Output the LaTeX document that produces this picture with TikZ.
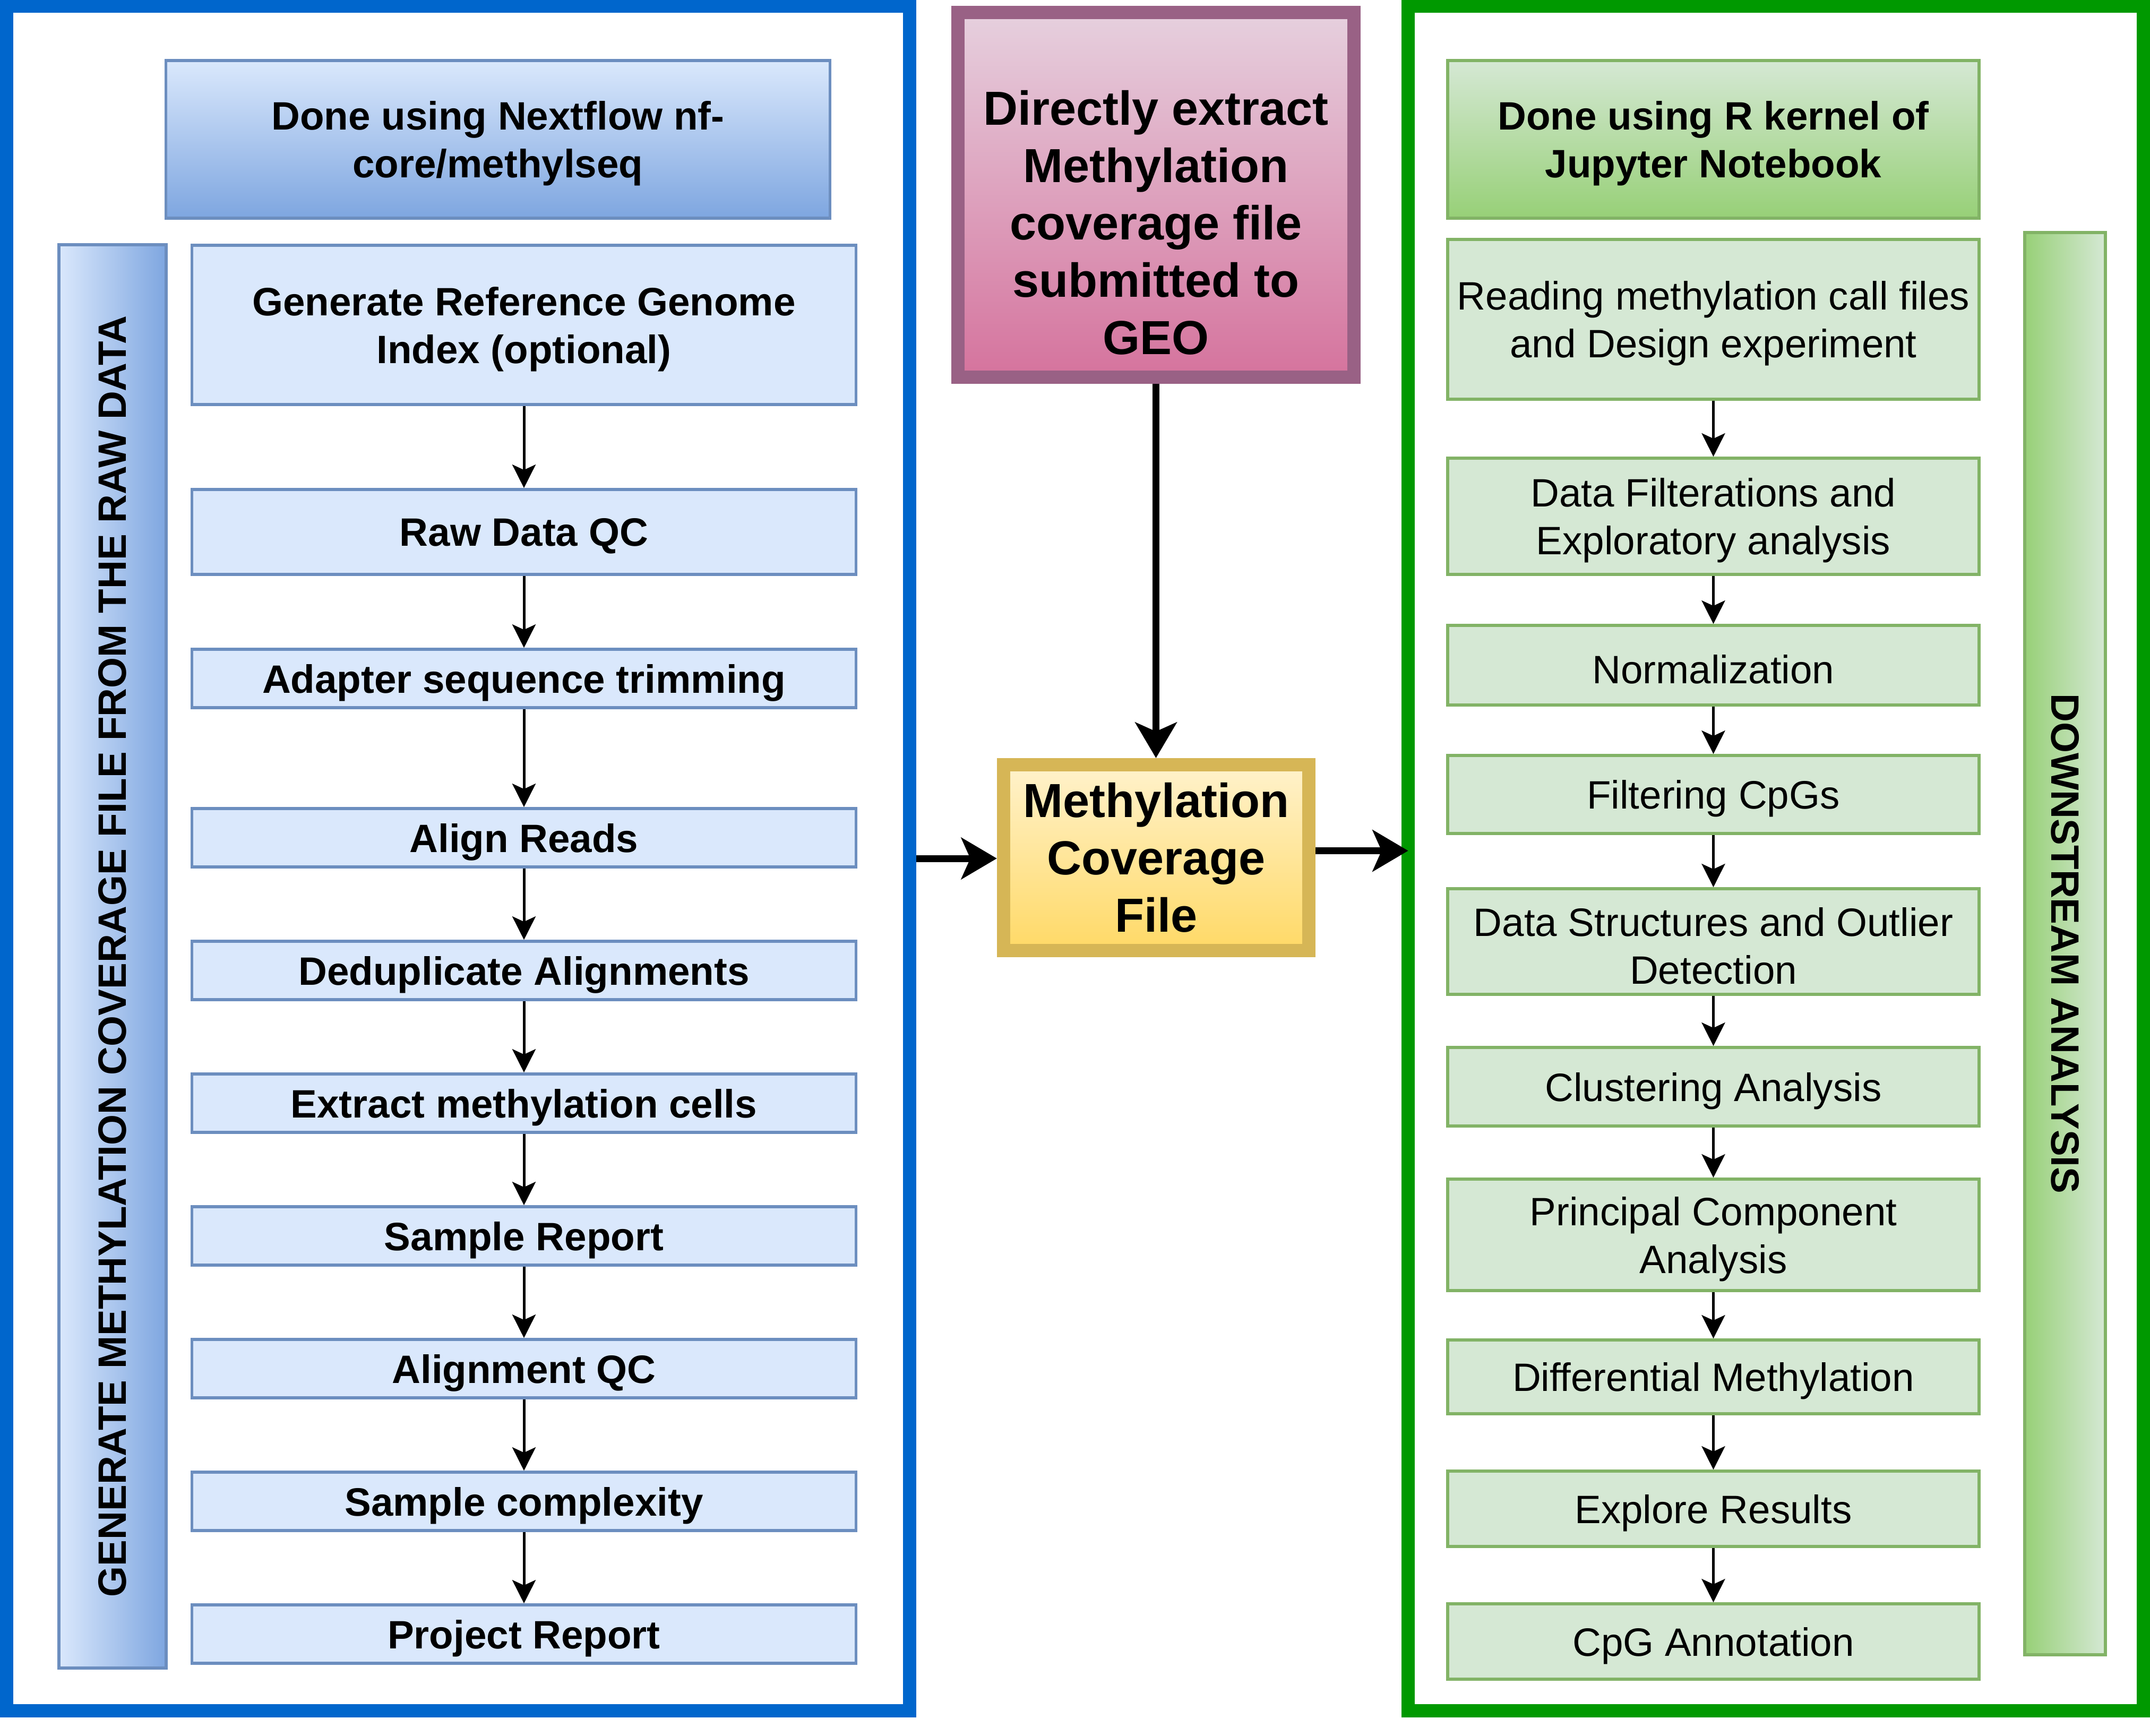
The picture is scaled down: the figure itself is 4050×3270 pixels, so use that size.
\documentclass[tikz,border=0pt]{standalone}
\usepackage{fontspec}
\setmainfont{Liberation Sans}
\usetikzlibrary{arrows.meta}
\definecolor{bframec}{HTML}{0066CC}
\definecolor{gframec}{HTML}{009900}
\definecolor{bfill}{HTML}{DAE8FC}
\definecolor{bdark}{HTML}{7EA6E0}
\definecolor{bstroke}{HTML}{6C8EBF}
\definecolor{gfill}{HTML}{D5E8D4}
\definecolor{gdark}{HTML}{97D077}
\definecolor{gstroke}{HTML}{82B366}
\definecolor{geostroke}{HTML}{996185}
\definecolor{geotop}{HTML}{E6D0DE}
\definecolor{geobot}{HTML}{D5739D}
\definecolor{covstroke}{HTML}{D6B656}
\definecolor{covtop}{HTML}{FFF2CC}
\definecolor{covbot}{HTML}{FFD966}
\newcommand\fsmall{\fontsize{21.2pt}{25.6pt}\selectfont}
\newcommand\fbig{\fontsize{25.6pt}{30.7pt}\selectfont}
% box node plus its text node, text lowered slightly as in the reference
% #1 name, #2 box style, #3 text font, #4 position, #5 text
\newcommand\boxwithtext[5]{%
  \node (#1) [#2] at (#4) {};
  \node (#1t) [align=center, font=#3, inner sep=0] at ([yshift=-0.08cm]#1.center) {#5};}
\begin{document}
\begin{tikzpicture}[x=0.01cm,y=-0.01cm,
  frame/.style={draw, line width=0.25cm, inner sep=0, minimum height=32.09cm},
  bstep/.style={draw=bstroke, fill=bfill, line width=0.055cm, minimum width=12.5cm, inner sep=0},
  gstep/.style={draw=gstroke, fill=gfill, line width=0.055cm, minimum width=10cm, inner sep=0},
  thinarrow/.style={-{Stealth[length=0.44cm,width=0.44cm,inset=0.1cm]}, line width=0.05cm},
  bigarrow/.style={-{Stealth[length=0.67cm,width=0.78cm,inset=0.17cm]}, line width=0.13cm}]
\useasboundingbox (0,0) rectangle (4050,3270);
\fill[white] (0,0) rectangle (4050,3270);

% frames
\node (bframe) [frame, draw=bframec, minimum width=17cm] at (862.5,1617) {};
\node (gframe) [frame, draw=gframec, minimum width=13.85cm] at (3345,1617) {};

% left column
\boxwithtext{bhead}{draw=bstroke, line width=0.055cm, top color=bfill, bottom color=bdark, minimum width=12.5cm, minimum height=2.97cm, inner sep=0}{\fsmall\bfseries}{938,262.5}{Done using Nextflow nf-\\core/methylseq}
\node (bbar) [draw=bstroke, line width=0.055cm, left color=bfill, right color=bdark, minimum width=2.02cm, minimum height=26.79cm, inner sep=0] at (212,1801.5) {};
\node (bbartext) [rotate=90, font=\fsmall\bfseries] at (bbar.center) {GENERATE METHYLATION COVERAGE FILE FROM THE RAW DATA};

\boxwithtext{s1}{bstep, minimum height=3cm}{\fsmall\bfseries}{987,612}{Generate Reference Genome\\Index (optional)}
\boxwithtext{s2}{bstep, minimum height=1.6cm}{\fsmall\bfseries}{987,1002}{Raw Data QC}
\boxwithtext{s3}{bstep, minimum height=1.1cm}{\fsmall\bfseries}{987,1278}{Adapter sequence trimming}
\boxwithtext{s4}{bstep, minimum height=1.1cm}{\fsmall\bfseries}{987,1578}{Align Reads}
\boxwithtext{s5}{bstep, minimum height=1.1cm}{\fsmall\bfseries}{987,1828}{Deduplicate Alignments}
\boxwithtext{s6}{bstep, minimum height=1.1cm}{\fsmall\bfseries}{987,2078}{Extract methylation cells}
\boxwithtext{s7}{bstep, minimum height=1.1cm}{\fsmall\bfseries}{987,2328}{Sample Report}
\boxwithtext{s8}{bstep, minimum height=1.1cm}{\fsmall\bfseries}{987,2578}{Alignment QC}
\boxwithtext{s9}{bstep, minimum height=1.1cm}{\fsmall\bfseries}{987,2828}{Sample complexity}
\boxwithtext{s10}{bstep, minimum height=1.1cm}{\fsmall\bfseries}{987,3078}{Project Report}

\foreach \a/\b in {s1/s2,s2/s3,s3/s4,s4/s5,s5/s6,s6/s7,s7/s8,s8/s9,s9/s10}
  \draw[thinarrow] (\a) -- (\b);

% middle
\node (geo) [draw=geostroke, line width=0.25cm, top color=geotop, bottom color=geobot, minimum width=7.45cm, minimum height=6.86cm, inner sep=0] at (2177.5,367) {};
\node (geotext) [align=center, font=\fbig\bfseries] at (2177.5,419) {Directly extract\\Methylation\\coverage file\\submitted to\\GEO};
\node (cov) [draw=covstroke, line width=0.25cm, top color=covtop, bottom color=covbot, minimum width=5.75cm, minimum height=3.5cm, inner sep=0, align=center, font=\fbig\bfseries] at (2178,1615.5) {Methylation\\Coverage\\File};

\draw[bigarrow] (geo.south) -- (geo.south |- cov.north);
\draw[bigarrow] (bframe.east) -- (bframe.east -| cov.west);
\draw[bigarrow] ([yshift=0.13cm]cov.east) -- ([yshift=0.13cm,xshift=0.13cm]cov.east -| gframe.west);

% right column
\boxwithtext{ghead}{draw=gstroke, line width=0.055cm, top color=gfill, bottom color=gdark, minimum width=10cm, minimum height=2.97cm, inner sep=0}{\fsmall\bfseries}{3227.5,262.5}{Done using R kernel of\\Jupyter Notebook}
\node (gbar) [draw=gstroke, line width=0.055cm, left color=gdark, right color=gfill, minimum width=1.52cm, minimum height=26.77cm, inner sep=0] at (3890,1777.5) {};
\node (gbartext) [rotate=-90, font=\fsmall\bfseries] at (gbar.center) {DOWNSTREAM ANALYSIS};

\boxwithtext{g1}{gstep, minimum height=3.01cm}{\fsmall}{3227.5,601.5}{Reading methylation call files\\and Design experiment}
\boxwithtext{g2}{gstep, minimum height=2.19cm}{\fsmall}{3227.5,972.5}{Data Filterations and\\Exploratory analysis}
\boxwithtext{g3}{gstep, minimum height=1.5cm}{\fsmall}{3227.5,1253}{Normalization}
\boxwithtext{g4}{gstep, minimum height=1.47cm}{\fsmall}{3227.5,1496.5}{Filtering CpGs}
\boxwithtext{g5}{gstep, minimum height=1.99cm}{\fsmall}{3227.5,1773.5}{Data Structures and Outlier\\Detection}
\boxwithtext{g6}{gstep, minimum height=1.48cm}{\fsmall}{3227.5,2047}{Clustering Analysis}
\boxwithtext{g7}{gstep, minimum height=2.1cm}{\fsmall}{3227.5,2326}{Principal Component\\Analysis}
\boxwithtext{g8}{gstep, minimum height=1.39cm}{\fsmall}{3227.5,2593.5}{Differential Methylation}
\boxwithtext{g9}{gstep, minimum height=1.42cm}{\fsmall}{3227.5,2842}{Explore Results}
\boxwithtext{g10}{gstep, minimum height=1.42cm}{\fsmall}{3227.5,3092}{CpG Annotation}

\foreach \a/\b in {g1/g2,g2/g3,g3/g4,g4/g5,g5/g6,g6/g7,g7/g8,g8/g9,g9/g10}
  \draw[thinarrow] (\a) -- (\b);
\end{tikzpicture}
\end{document}
